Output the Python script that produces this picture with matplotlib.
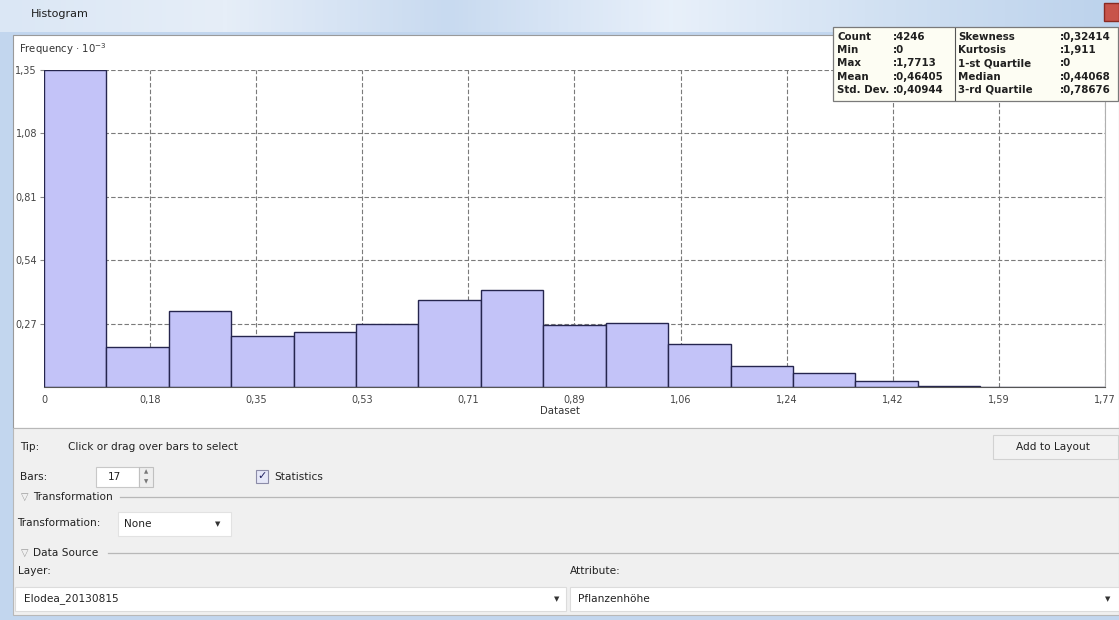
import numpy as np
import matplotlib
import matplotlib.pyplot as plt
from matplotlib.patches import Rectangle

matplotlib.rcParams.update({'font.family': ['DejaVu Sans'], 'font.size': 8})

# histogram of the dataset, 17 bars, frequency in units of 10^3
x_min = 0.0
x_max = 1.7713
freq = [1.350, 0.172, 0.323, 0.219, 0.235, 0.270, 0.369, 0.413, 0.264,
        0.273, 0.184, 0.088, 0.061, 0.025, 0.006, 0.001, 0.001]
y_ticks = [0.27, 0.54, 0.81, 1.08, 1.35]
y_tick_labels = ['0,27', '0,54', '0,81', '1,08', '1,35']
x_tick_labels = ['0', '0,18', '0,35', '0,53', '0,71', '0,89', '1,06',
                 '1,24', '1,42', '1,59', '1,77']

stat_names_left = ['Count', 'Min', 'Max', 'Mean', 'Std. Dev.']
stat_values_left = ['4246', '0', '1,7713', '0,46405', '0,40944']
stat_names_right = ['Skewness', 'Kurtosis', '1-st Quartile', 'Median', '3-rd Quartile']
stat_values_right = ['0,32414', '1,911', '0', '0,44068', '0,78676']

W, H = 1119, 620
fig = plt.figure(figsize=(W / 100, H / 100), dpi=100)
fig.patch.set_facecolor('#f0f0f0')

# pixel-space layer for the dialog around the chart
ui = fig.add_axes([0, 0, 1, 1], zorder=0)
ui.set_xlim(0, W)
ui.set_ylim(H, 0)
ui.axis('off')

# window frame and title bar
ui.add_patch(Rectangle((0, 0), W, H, fc='#c2d6ee', ec='none', zorder=0))
grad = np.linspace(0, 1, 256)
grad = np.vstack([grad, grad])
title_cmap = matplotlib.colors.LinearSegmentedColormap.from_list(
    'title', ['#dbe7f5', '#e6eef8', '#c8daf0', '#e8f0fa', '#d0e0f2', '#bcd2ec'])
ui.imshow(grad, extent=(0, W, 32, 0), cmap=title_cmap, aspect='auto', zorder=0.5)
ui.set_xlim(0, W)
ui.set_ylim(H, 0)
ui.text(31, 14, 'Histogram', fontsize=8, color='#1e1e1e', va='center', zorder=3)
ui.add_patch(Rectangle((1104, 3), 15, 18, fc='#c8544a', ec='#8a2a22', zorder=2))

# white chart panel
ui.add_patch(Rectangle((13, 35), W - 13, 393, fc='white', ec='#9a9a9a', lw=0.8, zorder=1))
ui.text(19, 49, 'Frequency · 10$^{-3}$', fontsize=7.3, color='#333333', va='center', zorder=3)
ui.text(560, 411, 'Dataset', fontsize=7.3, color='#333333', ha='center', va='center', zorder=3)

# grey control panel
ui.add_patch(Rectangle((13, 428), W - 13, 187, fc='#f0f0f0', ec='#b8b8b8', lw=0.8, zorder=1))
txt = dict(fontsize=7.6, color='#222222', va='center', zorder=3)
ui.text(20, 447, 'Tip:', **txt)
ui.text(68, 447, 'Click or drag over bars to select', **txt)
ui.add_patch(Rectangle((993, 435), 125, 24, fc='#f2f2f2', ec='#d2d2d2', lw=0.8, zorder=2))
ui.text(1090, 447, 'Add to Layout', ha='right', **txt)

ui.text(20, 477, 'Bars:', **txt)
ui.add_patch(Rectangle((96, 467), 43, 20, fc='white', ec='#c8c8c8', lw=0.8, zorder=2))
ui.add_patch(Rectangle((139, 467), 14, 20, fc='#eeeeee', ec='#c0c0c0', lw=0.8, zorder=2))
ui.text(146, 472, '▲', fontsize=4, color='#777777', ha='center', va='center', zorder=3)
ui.text(146, 482, '▼', fontsize=4, color='#777777', ha='center', va='center', zorder=3)
ui.text(108, 477, '17', **txt)
ui.add_patch(Rectangle((256, 470), 12, 13, fc='#e6e8f8', ec='#8c8ca8', lw=0.8, zorder=2))
ui.text(262, 476, '✓', fontsize=8, color='#202060', ha='center', va='center', zorder=3)
ui.text(274, 477, 'Statistics', **txt)

ui.text(21, 497, '▽', fontsize=7, color='#9a9a9a', va='center', zorder=3)
ui.text(33, 497, 'Transformation', **txt)
ui.plot([120, W], [497, 497], color='#b8b8b8', lw=0.9, zorder=2)
ui.text(17, 523, 'Transformation:', **txt)
ui.add_patch(Rectangle((118, 512), 113, 24, fc='white', ec='#e2e2e2', lw=0.8, zorder=2))
ui.text(124, 524, 'None', **txt)
ui.text(218, 524, '▼', fontsize=5, color='#333333', ha='center', va='center', zorder=3)

ui.text(21, 553, '▽', fontsize=7, color='#9a9a9a', va='center', zorder=3)
ui.text(33, 553, 'Data Source', **txt)
ui.plot([108, W], [553, 553], color='#b8b8b8', lw=0.9, zorder=2)
ui.text(18, 571, 'Layer:', **txt)
ui.text(570, 571, 'Attribute:', **txt)
ui.add_patch(Rectangle((15, 587), 551, 24, fc='white', ec='#dcdcdc', lw=0.8, zorder=2))
ui.add_patch(Rectangle((570, 587), W - 570, 24, fc='white', ec='#dcdcdc', lw=0.8, zorder=2))
ui.text(24, 599, 'Elodea_20130815', **txt)
ui.text(557, 599, '▼', fontsize=5, color='#333333', ha='center', va='center', zorder=3)
ui.text(578, 599, 'Pflanzenhöhe', **txt)
ui.text(1108, 599, '▼', fontsize=5, color='#333333', ha='center', va='center', zorder=3)

# histogram itself
ax = fig.add_axes([44 / W, (H - 387) / H, 1061 / W, 317 / H], zorder=1)
edges = np.linspace(x_min, x_max, len(freq) + 1)
ax.bar(edges[:-1], freq, width=np.diff(edges), align='edge',
       color='#c3c3f8', edgecolor='#25254e', linewidth=1.0, zorder=2)
ax.set_xlim(x_min, x_max)
ax.set_ylim(0, 1.35)
ax.set_xticks(np.linspace(x_min, x_max, len(x_tick_labels)))
ax.set_xticklabels(x_tick_labels)
ax.set_yticks(y_ticks)
ax.set_yticklabels(y_tick_labels)
ax.tick_params(axis='both', labelsize=7, labelcolor='#444444', length=0, pad=6)
ax.tick_params(axis='y', length=3, color='#888888', pad=2)
ax.grid(True, color='#7a7a7a', linestyle=(0, (4, 2)), linewidth=0.8)
ax.set_axisbelow(True)
for side in ['left', 'top']:
    ax.spines[side].set_visible(False)
ax.spines['right'].set_color('#b0b0b0')
ax.spines['bottom'].set_color('#555555')

# statistics box on top
top = fig.add_axes([0, 0, 1, 1], zorder=3)
top.set_xlim(0, W)
top.set_ylim(H, 0)
top.axis('off')
top.patch.set_alpha(0)
top.add_patch(Rectangle((833, 27), 285, 74, fc='#fdfdf3', ec='#7a7a7a', lw=0.9))
top.plot([955, 955], [28, 100], color='#555555', lw=0.8)
bold = dict(fontsize=7.4, fontweight='bold', color='#202020', va='center')
for i in range(len(stat_names_left)):
    yy = 37 + i * 13.2
    top.text(837, yy, stat_names_left[i], **bold)
    top.text(893, yy, ':' + stat_values_left[i], **bold)
    top.text(958, yy, stat_names_right[i], **bold)
    top.text(1060, yy, ':' + stat_values_right[i], **bold)

fig.savefig('out.png', dpi=100)
